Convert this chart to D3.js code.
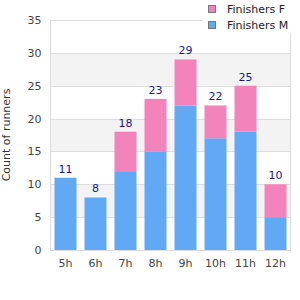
<!DOCTYPE html>
<html><head><meta charset="utf-8">
<script src="https://cdn.jsdelivr.net/npm/d3@7"></script>
<style>body{margin:0;background:#fff}svg{display:block}text{font-family:"DejaVu Sans",sans-serif}</style>
</head><body>
<svg id="c" width="300" height="300"></svg>
<script>
const categories = ["5h","6h","7h","8h","9h","10h","11h","12h"];
const finishersM = [11,8,12,15,22,17,18,5];
const finishersF = [0,0,6,8,7,5,7,5];
const yTicks = [0,5,10,15,20,25,30,35];
const seriesNames = ["Finishers F","Finishers M"];
const colors = {"Finishers M":"#62a9f5","Finishers F":"#f383bb"};

const svg = d3.select("#c");
const L=50.5, R=290.5, T=20, B=250;
const x = d3.scaleBand().domain(categories).range([L,R]).paddingInner(0.267).paddingOuter(0.133);
const y = d3.scaleLinear().domain([0,35]).range([B,T]);

// bands
for(let i=0;i<yTicks.length-1;i++){
  if(i%2===1){
    svg.append("rect").attr("x",L).attr("width",R-L).attr("y",y(yTicks[i+1])).attr("height",y(yTicks[i])-y(yTicks[i+1])).attr("fill","#f3f3f3");
  }
}
// gridlines
svg.append("g").selectAll("line").data(yTicks).join("line")
  .attr("x1",L).attr("x2",R).attr("y1",d=>Math.round(y(d))+0.5).attr("y2",d=>Math.round(y(d))+0.5)
  .attr("stroke","#dddddd");
// frame
svg.append("line").attr("x1",L).attr("x2",L).attr("y1",T).attr("y2",B+0.5).attr("stroke","#dddddd");
svg.append("line").attr("x1",R).attr("x2",R).attr("y1",T).attr("y2",B+0.5).attr("stroke","#dddddd");

const data = categories.map((c,i)=>({cat:c,"Finishers M":finishersM[i],"Finishers F":finishersF[i]}));
const stack = d3.stack().keys(["Finishers M","Finishers F"])(data);
svg.append("g").selectAll("g").data(stack).join("g").attr("fill",d=>colors[d.key])
  .selectAll("rect").data(d=>d).join("rect")
  .attr("x",d=>x(d.data.cat)).attr("width",x.bandwidth())
  .attr("y",d=>y(d[1])).attr("height",d=>y(d[0])-y(d[1]));

// totals
svg.append("g").selectAll("text").data(data).join("text")
  .attr("x",d=>x(d.cat)+x.bandwidth()/2)
  .attr("y",d=>y(d["Finishers M"]+d["Finishers F"])-5)
  .attr("text-anchor","middle").attr("font-size",11).attr("fill","#1a1a8a")
  .text(d=>d["Finishers M"]+d["Finishers F"]);

// y axis labels
const ya = svg.append("g").attr("transform",`translate(${L},0)`).call(d3.axisLeft(y).tickValues(yTicks).tickSize(0).tickPadding(9));
ya.select(".domain").remove();
ya.selectAll("text").attr("font-size",11).attr("fill","#444").attr("font-family","DejaVu Sans, sans-serif");

// x axis
const xa = svg.append("g").attr("transform",`translate(0,${B})`).call(d3.axisBottom(x).tickSize(0).tickPadding(9));
xa.select(".domain").attr("stroke","#dddddd");
xa.selectAll("text").attr("font-size",11).attr("fill","#444").attr("font-family","DejaVu Sans, sans-serif");

// y title
svg.append("text").attr("transform",`translate(10,${(T+B)/2}) rotate(-90)`).attr("text-anchor","middle")
  .attr("font-size",11).attr("fill","#333").text("Count of runners");

// legend
svg.append("rect").attr("x",202).attr("y",0).attr("width",98).attr("height",33).attr("fill","#fff");
const lg = svg.append("g").selectAll("g").data(seriesNames).join("g").attr("transform",(d,i)=>`translate(208,${5+i*16})`);
lg.append("rect").attr("x",0.5).attr("y",0.5).attr("width",7).attr("height",7).attr("fill",d=>colors[d]).attr("stroke","#777");
lg.append("text").attr("x",19).attr("y",8).attr("font-size",11).attr("fill","#222").text(d=>d);
</script>
</body></html>
